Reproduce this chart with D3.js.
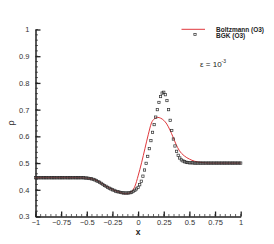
<!DOCTYPE html>
<html>
<head>
<meta charset="utf-8">
<script src="https://cdn.jsdelivr.net/npm/d3@7"></script>
<style>
  body { margin: 0; background: #fff; }
  text { font-family: "Liberation Sans", Arial, sans-serif; }
</style>
</head>
<body>
<div id="chart"></div>
<script>
// Boltzmann (O3) - solid red line
var boltzX = [-1, -0.6, -0.5, -0.45, -0.4, -0.35, -0.3, -0.25, -0.2, -0.15, -0.12, -0.09, -0.06, -0.03, 0,
              0.035, 0.067, 0.1, 0.13, 0.16, 0.19, 0.22, 0.25, 0.28, 0.31, 0.34, 0.37, 0.4, 0.45, 0.5,
              0.55, 0.6, 0.65, 0.7, 1];
var boltzY = [0.445, 0.445, 0.444, 0.441, 0.434, 0.423, 0.411, 0.401, 0.393, 0.387, 0.385, 0.387, 0.395, 0.414, 0.452,
              0.503, 0.555, 0.608, 0.650, 0.666, 0.671, 0.668, 0.660, 0.646, 0.624, 0.598, 0.570, 0.548, 0.527, 0.515,
              0.507, 0.503, 0.501, 0.5, 0.5];

// BGK (O3) - open squares, 129 samples from x=-1 to 1
var bgkY = [0.445, 0.445, 0.445, 0.445, 0.445, 0.445, 0.445, 0.445, 0.445, 0.445,
            0.445, 0.445, 0.445, 0.445, 0.445, 0.445, 0.445, 0.445, 0.445, 0.445,
            0.445, 0.445, 0.445, 0.445, 0.445, 0.445, 0.445, 0.445, 0.445, 0.445,
            0.445, 0.444, 0.444, 0.443, 0.442, 0.441, 0.439, 0.437, 0.434, 0.431,
            0.428, 0.424, 0.420, 0.416, 0.413, 0.409, 0.406, 0.403, 0.400, 0.398,
            0.395, 0.393, 0.392, 0.390, 0.389, 0.388, 0.388, 0.388, 0.388, 0.389,
            0.391, 0.394, 0.398, 0.403, 0.409, 0.419, 0.432, 0.451, 0.474, 0.499,
            0.525, 0.554, 0.584, 0.615, 0.644, 0.672, 0.700, 0.727, 0.749, 0.762,
            0.765, 0.756, 0.734, 0.700, 0.660, 0.622, 0.590, 0.564, 0.544, 0.529,
            0.519, 0.512, 0.508, 0.505, 0.503, 0.502, 0.501, 0.501, 0.501, 0.5,
            0.5, 0.5, 0.5, 0.5, 0.5, 0.5, 0.5, 0.5, 0.5, 0.5,
            0.5, 0.5, 0.5, 0.5, 0.5, 0.5, 0.5, 0.5, 0.5, 0.5,
            0.5, 0.5, 0.5, 0.5, 0.5, 0.5, 0.5, 0.5, 0.5];

var xTicks = [-1, -0.75, -0.5, -0.25, 0, 0.25, 0.5, 0.75, 1];
var yTicks = [0.3, 0.4, 0.5, 0.6, 0.7, 0.8, 0.9, 1];
var legendNames = ["Boltzmann (O3)", "BGK (O3)"];

var width = 274, height = 244;
var svg = d3.select("#chart").append("svg")
    .attr("width", width)
    .attr("height", height);

var x = d3.scaleLinear().domain([-1, 1]).range([35.5, 240.7]);
var y = d3.scaleLinear().domain([0.3, 1]).range([216.5, 29.5]);

var ink = "#222";

// minor ticks (inward)
var g = svg.append("g");
g.selectAll(".xmin").data(d3.range(-1, 1.0001, 0.05))
    .enter().append("line")
    .attr("x1", function (d) { return x(d); })
    .attr("x2", function (d) { return x(d); })
    .attr("y1", y(0.3)).attr("y2", y(0.3) - 2.5)
    .attr("stroke", ink).attr("stroke-width", 0.7);
g.selectAll(".ymin").data(d3.range(0.3, 1.0001, 0.02))
    .enter().append("line")
    .attr("y1", function (d) { return y(d); })
    .attr("y2", function (d) { return y(d); })
    .attr("x1", x(-1)).attr("x2", x(-1) + 2.5)
    .attr("stroke", ink).attr("stroke-width", 0.7);

// major ticks
var xAxis = d3.axisBottom(x).tickValues(xTicks).tickSizeInner(-5).tickSizeOuter(0).tickPadding(3)
    .tickFormat(function (d) { return d3.format("")(d); });
var yAxis = d3.axisLeft(y).tickValues(yTicks).tickSizeInner(-5).tickSizeOuter(0).tickPadding(6)
    .tickFormat(function (d) { return d3.format("")(d); });

var gx = svg.append("g").attr("transform", "translate(0," + y(0.3) + ")").call(xAxis);
var gy = svg.append("g").attr("transform", "translate(" + x(-1) + ",0)").call(yAxis);
[gx, gy].forEach(function (a) {
    a.select(".domain").attr("stroke", ink).attr("stroke-width", 1.5);
    a.selectAll(".tick line").attr("stroke", ink).attr("stroke-width", 1.3);
    a.selectAll(".tick text").attr("fill", "#333").style("font-size", "7.5px")
        .style("font-family", "'Liberation Sans', Arial, sans-serif");
});

// axis titles
svg.append("text").attr("x", x(0)).attr("y", 235)
    .attr("text-anchor", "middle").style("font-size", "8.5px").style("font-weight", "bold")
    .attr("fill", "#222").text("x");
svg.append("text").attr("transform", "translate(14,123) rotate(-90)")
    .attr("text-anchor", "middle").style("font-size", "9px").attr("fill", "#333").text("ρ");

// Boltzmann line
var line = d3.line()
    .x(function (d) { return x(d[0]); })
    .y(function (d) { return y(d[1]); })
    .curve(d3.curveMonotoneX);
svg.append("path")
    .datum(boltzX.map(function (v, i) { return [v, boltzY[i]]; }))
    .attr("d", line)
    .attr("fill", "none")
    .attr("stroke", "#e0383c")
    .attr("stroke-width", 1);

// BGK squares
var s = 2.3;
svg.append("g").selectAll("rect")
    .data(bgkY)
    .enter().append("rect")
    .attr("x", function (d, i) { return x(-1 + i / 64) - s / 2; })
    .attr("y", function (d) { return y(d) - s / 2; })
    .attr("width", s).attr("height", s)
    .attr("fill", "none")
    .attr("stroke", "#2e2e2e")
    .attr("stroke-width", 0.7);

// legend
svg.append("line").attr("x1", 181.5).attr("x2", 205).attr("y1", 29.3).attr("y2", 29.3)
    .attr("stroke", "#e0383c").attr("stroke-width", 1);
svg.append("rect").attr("x", 195 - s / 2).attr("y", 34.5 - s / 2).attr("width", s).attr("height", s)
    .attr("fill", "none").attr("stroke", "#2e2e2e").attr("stroke-width", 0.7);
svg.selectAll(".leg").data(legendNames).enter().append("text")
    .attr("x", 216)
    .attr("y", function (d, i) { return 32 + i * 6; })
    .style("font-size", "6.5px").style("font-weight", "bold").attr("fill", "#222")
    .text(function (d) { return d; });

// epsilon annotation
var eps = svg.append("text").attr("x", 200).attr("y", 66.5).style("font-size", "8px").attr("fill", "#222");
eps.append("tspan").text("ε = 10");
eps.append("tspan").attr("dy", -3.5).style("font-size", "5px").text("-3");
</script>
</body>
</html>
